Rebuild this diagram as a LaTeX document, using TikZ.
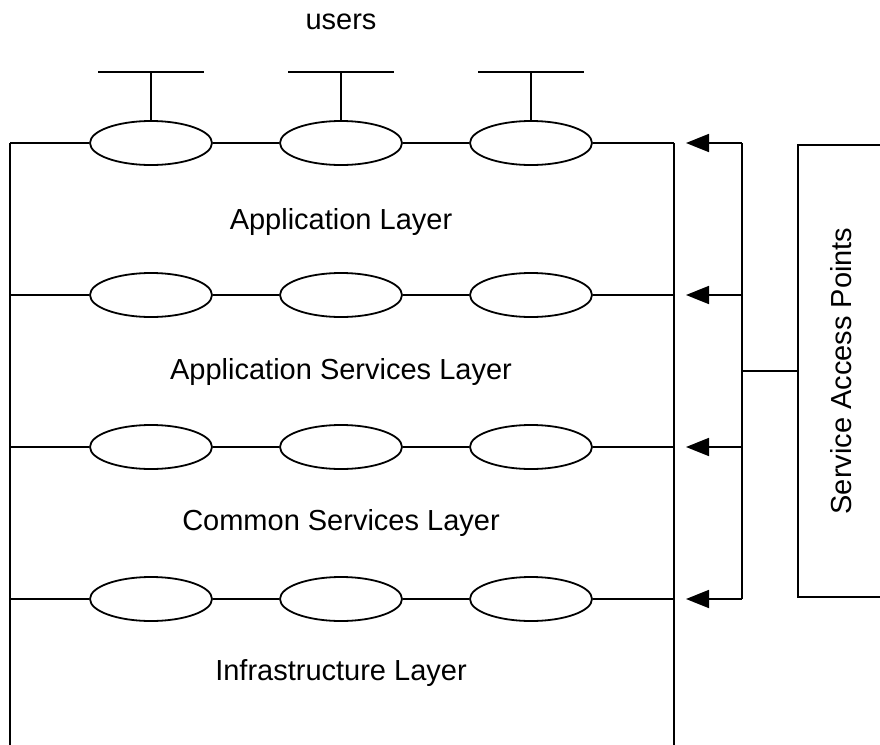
\documentclass[tikz,border=0pt]{standalone}
\usepackage{fontspec}
\setmainfont{Liberation Sans}
\usetikzlibrary{shapes.geometric,arrows.meta}
\tikzset{
  sap/.style={draw, ellipse, minimum width=61pt, minimum height=22pt, inner sep=0pt},
  lbl/.style={font=\fontsize{14.5}{17}\selectfont}
}
\begin{document}
\begin{tikzpicture}[x=0.5pt, y=-0.5pt, line width=0.9pt, >={Triangle[length=11.5pt,width=9pt]}]
\useasboundingbox (0,0) rectangle (880,745);
% layers
\foreach \r/\y in {1/143,2/295,3/447,4/599}{
  \coordinate (l\r) at (10,\y);
  \coordinate (r\r) at (674,\y);
  \node[sap] (e\r1) at (151,\y) {};
  \node[sap] (e\r2) at (341,\y) {};
  \node[sap] (e\r3) at (531,\y) {};
  \draw (l\r)--(e\r1)--(e\r2)--(e\r3)--(r\r);
  \coordinate (b\r) at (742,\y);
  \coordinate (t\r) at (686,\y);
  \draw[->] (b\r)--(t\r);
}
\coordinate (lb) at (10,745);
\coordinate (rb) at (674,745);
\draw (l1)--(lb);
\draw (r1)--(rb);
% users
\node[lbl] (users) at (341,22) {users};
\foreach \i/\x in {1/151,2/341,3/531}{
  \coordinate (u\i) at (\x,72);
  \draw (u\i)--(e1\i.north);
  \draw ([xshift=-26.5pt]u\i)--([xshift=26.5pt]u\i);
}
\node[lbl] (app) at (341,222) {Application Layer};
\node[lbl] (appsvc) at (341,372) {Application Services Layer};
\node[lbl] (common) at (341,523) {Common Services Layer};
\node[lbl] (infra) at (341,673) {Infrastructure Layer};
% service access points
\draw (b1)--(b4);
\coordinate (bm) at (742,371);
\coordinate (sm) at (798,371);
\draw (bm)--(sm);
\draw (900,145)-|(798,597)--(900,597);
\node[lbl, rotate=90] (sap) at (841,371) {Service Access Points};
\end{tikzpicture}
\end{document}
